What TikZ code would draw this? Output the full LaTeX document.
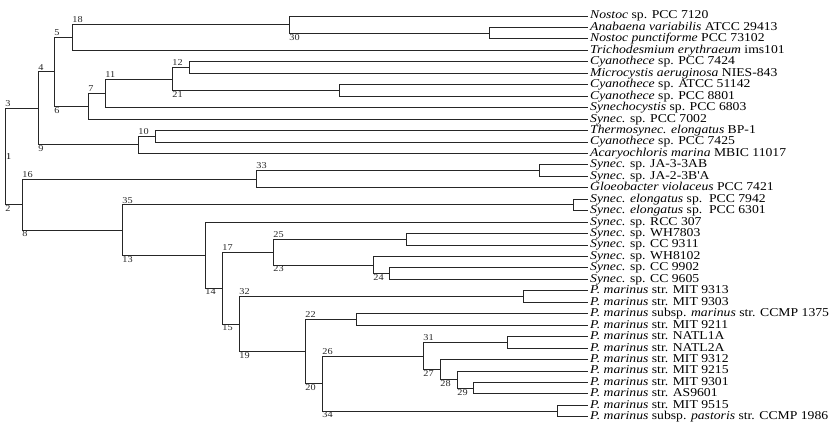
\documentclass[tikz,border=0pt]{standalone}
\usepackage{fontspec}
\setmainfont{Liberation Serif}[FakeStretch=1.14]
\usepackage{tikz}
\tikzstyle{branch}=[draw,line width=0.8pt,black!85]
\tikzstyle{leaf}=[anchor=west,inner xsep=2pt,inner ysep=0pt,text height=9pt,text depth=3pt,font=\fontsize{12}{12}\selectfont]
\tikzstyle{toplab}=[anchor=south west,inner xsep=1pt,inner ysep=1.2pt,xshift=-1pt,font=\fontsize{9}{9}\selectfont]
\tikzstyle{botlab}=[anchor=north west,inner xsep=1pt,inner ysep=0.6pt,xshift=-1pt,font=\fontsize{9}{9}\selectfont]

\begin{document}
\begin{tikzpicture}[x=1pt,y=-1pt]
\useasboundingbox (0,0) rectangle (830,438);

% leaves
\node[leaf] (l0) at (588,16) {\textit{Nostoc} sp. PCC 7120};
\node[leaf] (l1) at (588,27.45) {\textit{Anabaena variabilis} ATCC 29413};
\node[leaf] (l2) at (588,38.9) {\textit{Nostoc punctiforme} PCC 73102};
\node[leaf] (l3) at (588,50.35) {\textit{Trichodesmium erythraeum} ims101};
\node[leaf] (l4) at (588,61.8) {\textit{Cyanothece} sp. PCC 7424};
\node[leaf] (l5) at (588,73.25) {\textit{Microcystis aeruginosa} NIES-843};
\node[leaf] (l6) at (588,84.7) {\textit{Cyanothece} sp. ATCC 51142};
\node[leaf] (l7) at (588,96.15) {\textit{Cyanothece} sp. PCC 8801};
\node[leaf] (l8) at (588,107.6) {\textit{Synechocystis} sp. PCC 6803};
\node[leaf] (l9) at (588,119.05) {\textit{Synec.} sp. PCC 7002};
\node[leaf] (l10) at (588,130.5) {\textit{Thermosynec. elongatus} BP-1};
\node[leaf] (l11) at (588,141.95) {\textit{Cyanothece} sp. PCC 7425};
\node[leaf] (l12) at (588,153.4) {\textit{Acaryochloris marina} MBIC 11017};
\node[leaf] (l13) at (588,164.85) {\textit{Synec.} sp. JA-3-3AB};
\node[leaf] (l14) at (588,176.3) {\textit{Synec.} sp. JA-2-3B\textquotesingle A};
\node[leaf] (l15) at (588,187.75) {\textit{Gloeobacter violaceus} PCC 7421};
\node[leaf] (l16) at (588,199.2) {\textit{Synec. elongatus} sp.\ \ PCC 7942};
\node[leaf] (l17) at (588,210.65) {\textit{Synec. elongatus} sp.\ \ PCC 6301};
\node[leaf] (l18) at (588,222.1) {\textit{Synec.} sp. RCC 307};
\node[leaf] (l19) at (588,233.55) {\textit{Synec.} sp. WH7803};
\node[leaf] (l20) at (588,245) {\textit{Synec.} sp. CC 9311};
\node[leaf] (l21) at (588,256.45) {\textit{Synec.} sp. WH8102};
\node[leaf] (l22) at (588,267.9) {\textit{Synec.} sp. CC 9902};
\node[leaf] (l23) at (588,279.35) {\textit{Synec.} sp. CC 9605};
\node[leaf] (l24) at (588,290.8) {\textit{P. marinus} str. MIT 9313};
\node[leaf] (l25) at (588,302.25) {\textit{P. marinus} str. MIT 9303};
\node[leaf] (l26) at (588,313.7) {\textit{P. marinus} subsp. \textit{marinus} str. CCMP 1375};
\node[leaf] (l27) at (588,325.15) {\textit{P. marinus} str. MIT 9211};
\node[leaf] (l28) at (588,336.6) {\textit{P. marinus} str. NATL1A};
\node[leaf] (l29) at (588,348.05) {\textit{P. marinus} str. NATL2A};
\node[leaf] (l30) at (588,359.5) {\textit{P. marinus} str. MIT 9312};
\node[leaf] (l31) at (588,370.95) {\textit{P. marinus} str. MIT 9215};
\node[leaf] (l32) at (588,382.4) {\textit{P. marinus} str. MIT 9301};
\node[leaf] (l33) at (588,393.85) {\textit{P. marinus} str. AS9601};
\node[leaf] (l34) at (588,405.3) {\textit{P. marinus} str. MIT 9515};
\node[leaf] (l35) at (588,416.75) {\textit{P. marinus} subsp. \textit{pastoris} str. CCMP 1986};

% internal nodes
\coordinate (a) at (489,33.2);
\coordinate (b) at (289,24.6);
\coordinate (c) at (72,37.5);
\coordinate (d) at (189,67.5);
\coordinate (e) at (339,90.4);
\coordinate (f) at (172,79);
\coordinate (g) at (105,93.3);
\coordinate (h) at (88,106.2);
\coordinate (i) at (54,71.8);
\coordinate (j) at (155,136.2);
\coordinate (k) at (138,144.8);
\coordinate (m) at (38,108.3);
\coordinate (n) at (539,170.6);
\coordinate (o) at (256,179.2);
\coordinate (p) at (573,204.9);
\coordinate (q) at (406,239.3);
\coordinate (r) at (389,273.6);
\coordinate (s) at (373,265);
\coordinate (t) at (273,252.1);
\coordinate (u) at (523,296.5);
\coordinate (v) at (356,319.4);
\coordinate (w) at (507,342.3);
\coordinate (x4) at (473,388.1);
\coordinate (x3) at (457,379.5);
\coordinate (x2) at (440,369.5);
\coordinate (x1) at (423,355.9);
\coordinate (y1) at (557,411);
\coordinate (z) at (322,383.5);
\coordinate (A) at (305,351.4);
\coordinate (B) at (239,324);
\coordinate (C) at (222,288);
\coordinate (D) at (205,255.1);
\coordinate (E) at (122,230);
\coordinate (F) at (22,204.6);
\coordinate (root) at (5,156.5);
\node[anchor=west,inner sep=1pt,font=\fontsize{9}{9}\selectfont] (rl) at (root) {1};

% branches
\draw[branch] (root) |- node[toplab]{3} (m);
\draw[branch] (root) |- node[botlab]{2} (F);
\draw[branch] (m) |- node[toplab]{4} (i);
\draw[branch] (m) |- node[botlab]{9} (k);
\draw[branch] (i) |- node[toplab]{5} (c);
\draw[branch] (i) |- node[botlab]{6} (h);
\draw[branch] (c) |- node[toplab]{18} (b);
\draw[branch] (c) |- (l3.west);
\draw[branch] (b) |- (l0.west);
\draw[branch] (b) |- node[botlab]{30} (a);
\draw[branch] (a) |- (l1.west);
\draw[branch] (a) |- (l2.west);
\draw[branch] (h) |- node[toplab]{7} (g);
\draw[branch] (h) |- (l9.west);
\draw[branch] (g) |- node[toplab]{11} (f);
\draw[branch] (g) |- (l8.west);
\draw[branch] (f) |- node[toplab]{12} (d);
\draw[branch] (f) |- node[botlab]{21} (e);
\draw[branch] (d) |- (l4.west);
\draw[branch] (d) |- (l5.west);
\draw[branch] (e) |- (l6.west);
\draw[branch] (e) |- (l7.west);
\draw[branch] (k) |- node[toplab]{10} (j);
\draw[branch] (k) |- (l12.west);
\draw[branch] (j) |- (l10.west);
\draw[branch] (j) |- (l11.west);
\draw[branch] (F) |- node[toplab]{16} (o);
\draw[branch] (F) |- node[botlab]{8} (E);
\draw[branch] (o) |- node[toplab]{33} (n);
\draw[branch] (o) |- (l15.west);
\draw[branch] (n) |- (l13.west);
\draw[branch] (n) |- (l14.west);
\draw[branch] (E) |- node[toplab]{35} (p);
\draw[branch] (E) |- node[botlab]{13} (D);
\draw[branch] (p) |- (l16.west);
\draw[branch] (p) |- (l17.west);
\draw[branch] (D) |- (l18.west);
\draw[branch] (D) |- node[botlab]{14} (C);
\draw[branch] (C) |- node[toplab]{17} (t);
\draw[branch] (C) |- node[botlab]{15} (B);
\draw[branch] (t) |- node[toplab]{25} (q);
\draw[branch] (t) |- node[botlab]{23} (s);
\draw[branch] (q) |- (l19.west);
\draw[branch] (q) |- (l20.west);
\draw[branch] (s) |- (l21.west);
\draw[branch] (s) |- node[botlab]{24} (r);
\draw[branch] (r) |- (l22.west);
\draw[branch] (r) |- (l23.west);
\draw[branch] (B) |- node[toplab]{32} (u);
\draw[branch] (B) |- node[botlab]{19} (A);
\draw[branch] (u) |- (l24.west);
\draw[branch] (u) |- (l25.west);
\draw[branch] (A) |- node[toplab]{22} (v);
\draw[branch] (A) |- node[botlab]{20} (z);
\draw[branch] (v) |- (l26.west);
\draw[branch] (v) |- (l27.west);
\draw[branch] (z) |- node[toplab]{26} (x1);
\draw[branch] (z) |- node[botlab]{34} (y1);
\draw[branch] (x1) |- node[toplab]{31} (w);
\draw[branch] (x1) |- node[botlab]{27} (x2);
\draw[branch] (w) |- (l28.west);
\draw[branch] (w) |- (l29.west);
\draw[branch] (x2) |- (l30.west);
\draw[branch] (x2) |- node[botlab]{28} (x3);
\draw[branch] (x3) |- (l31.west);
\draw[branch] (x3) |- node[botlab]{29} (x4);
\draw[branch] (x4) |- (l32.west);
\draw[branch] (x4) |- (l33.west);
\draw[branch] (y1) |- (l34.west);
\draw[branch] (y1) |- (l35.west);
\end{tikzpicture}
\end{document}
